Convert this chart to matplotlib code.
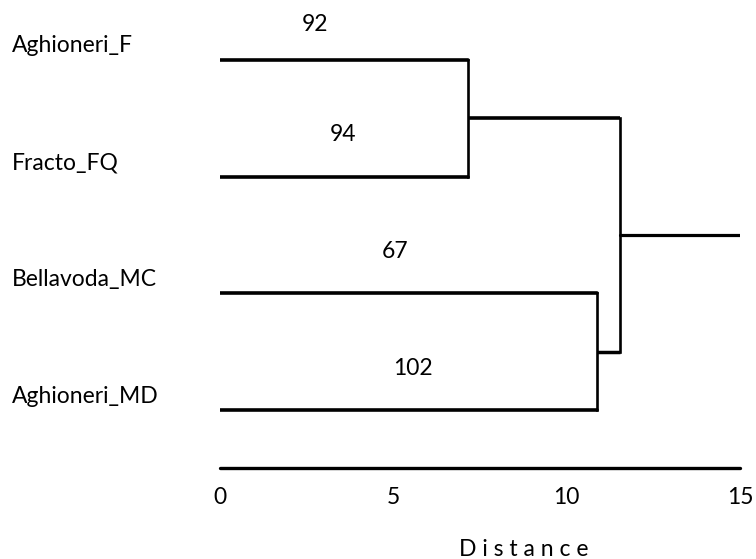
import matplotlib
matplotlib.use("Agg")
import matplotlib.pyplot as plt

# Data
leaves = ["Aghioneri_F", "Fracto_FQ", "Bellavoda_MC", "Aghioneri_MD"]
# merge distances: (leaf0+leaf1), (leaf2+leaf3), root
merge_heights = [7.15, 10.87, 11.55]
root_end = 15.0
support = ["92", "94", "67", "102"]
support_x = [2.75, 3.55, 5.05, 5.57]
xticks = [0, 5, 10, 15]
xlabel = "D i s t a n c e"

plt.rcParams['font.family'] = ['Lato', 'DejaVu Sans']
FS = 16.5

W, H = 756, 559
fig = plt.figure(figsize=(W / 100, H / 100), dpi=100)
left_px, right_px = 220, 740
top_px, bottom_px = 0, 468
ax = fig.add_axes([left_px / W, 1 - bottom_px / H, (right_px - left_px) / W, (bottom_px - top_px) / H])

step = 116.7
y0 = 60
ax.set_xlim(0, 15)
ax.set_ylim((bottom_px - y0) / step, (top_px - y0) / step)

ypos = list(range(len(leaves)))
hlw, vlw = 2.6, 1.9
col = "black"

# cluster A: leaves 0,1
hA = merge_heights[0]
ax.plot([0, hA], [ypos[0], ypos[0]], color=col, lw=hlw, solid_capstyle='round')
ax.plot([0, hA], [ypos[1], ypos[1]], color=col, lw=hlw, solid_capstyle='round')
ax.plot([hA, hA], [ypos[0], ypos[1]], color=col, lw=vlw, solid_capstyle='projecting')
yA = (ypos[0] + ypos[1]) / 2

# cluster B: leaves 2,3
hB = merge_heights[1]
ax.plot([0, hB], [ypos[2], ypos[2]], color=col, lw=hlw, solid_capstyle='round')
ax.plot([0, hB], [ypos[3], ypos[3]], color=col, lw=hlw, solid_capstyle='round')
ax.plot([hB, hB], [ypos[2], ypos[3]], color=col, lw=vlw, solid_capstyle='projecting')
yB = (ypos[2] + ypos[3]) / 2

# root
hR = merge_heights[2]
ax.plot([hA, hR], [yA, yA], color=col, lw=hlw, solid_capstyle='butt')
ax.plot([hB, hR], [yB, yB], color=col, lw=vlw + 0.6, solid_capstyle='butt')
ax.plot([hR, hR], [yA, yB], color=col, lw=vlw, solid_capstyle='projecting')
yR = (yA + yB) / 2
ax.plot([hR, root_end], [yR, yR], color=col, lw=vlw + 0.4, solid_capstyle='round')

# support labels
for i, (s, sx) in enumerate(zip(support, support_x)):
    ax.text(sx, ypos[i] - (0.30 if i == 0 else 0.36), s, ha='center', va='center', fontsize=FS)

# leaf labels
for i, name in enumerate(leaves):
    fig.text(12 / W, 1 - (y0 + i * step - 14) / H, name, ha='left', va='center', fontsize=FS)

for s in ['top', 'right', 'left']:
    ax.spines[s].set_visible(False)
ax.spines['bottom'].set_linewidth(2.4)
ax.spines['bottom'].set_capstyle('round')
ax.set_yticks([])
ax.set_xticks(xticks)
ax.set_xticklabels([str(t) for t in xticks], fontsize=FS)
ax.tick_params(axis='x', length=0, pad=14)
fig.text(524 / W, 1 - 549 / H, xlabel, ha='center', va='center', fontsize=FS)

fig.savefig("out.png", dpi=100)
